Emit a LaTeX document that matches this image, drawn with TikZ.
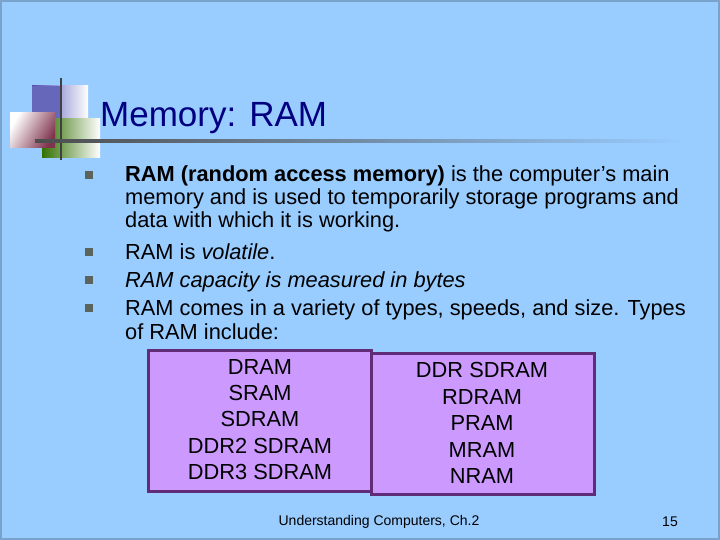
\documentclass[tikz,border=0pt]{standalone}
\usepackage{fontspec}
\setmainfont{Liberation Sans}
\begin{document}
\begin{tikzpicture}[x=1pt,y=-1pt,
  txt/.style={anchor=base west,inner sep=0pt,font=\fontsize{21.8}{24}\selectfont},
  bul/.style={fill=bulc,minimum size=7.5pt,inner sep=0pt},
  box/.style={draw=boxd,line width=3pt,fill=boxf},
  it/.style={inner sep=0pt,font=\fontsize{21.8}{24}\selectfont}]
\definecolor{bg}{RGB}{153,204,255}
\definecolor{bulc}{RGB}{90,100,90}
\definecolor{boxd}{RGB}{96,44,120}
\definecolor{boxf}{RGB}{204,153,255}
\definecolor{titc}{RGB}{0,0,128}
\useasboundingbox (0,0) rectangle (720,540);
\fill[bg] (0,0) rectangle (720,540);
\draw[bg!80!black,line width=2pt] (1,1) rectangle (719,539);
% logo
\shade[left color=blue!60!black!70!white,right color=white] (32,86) rectangle (88,120);
\fill[blue!55!black!60!white] (32,86) rectangle (62,120);
\shade[left color=green!30!black!80!yellow,right color=white] (42,119) rectangle (100,158);
\shade[left color=white,right color=purple!50!black!80!white,shading angle=60] (10,113) rectangle (55,148);
\draw[black!75,line width=2pt] (61,78) -- (61,160);
\shade[left color=black!70,right color=bg] (35,140) rectangle (683,142.5);
\node[anchor=base west,inner sep=0pt,text=titc,font=\fontsize{35}{38}\selectfont] (title) at (100,127) {Memory: RAM};
% bullets
\node[bul] (b1) at (89,175) {};
\node[bul] (b2) at (89,252) {};
\node[bul] (b3) at (89,280) {};
\node[bul] (b4) at (89,308) {};
\node[txt] (l1) at (125,182) {\textbf{RAM (random access memory)} is the computer’s main};
\node[txt] (l2) at (125,205) {memory and is used to temporarily storage programs and};
\node[txt] (l3) at (125,228) {data with which it is working.};
\node[txt] (l4) at (125,259) {RAM is \textit{volatile}.};
\node[txt] (l5) at (125,287) {\textit{RAM capacity is measured in bytes}};
\node[txt] (l6) at (125,315) {RAM comes in a variety of types, speeds, and size. Types};
\node[txt] (l7) at (125,339) {of RAM include:};
% boxes
\draw[box] (148,350) rectangle (371,491);
\draw[box] (371,353) rectangle (594,494);
\node[it] (a1) at (260,367) {DRAM};
\node[it] (a2) at (260,393) {SRAM};
\node[it] (a3) at (260,419) {SDRAM};
\node[it] (a4) at (260,446) {DDR2 SDRAM};
\node[it] (a5) at (260,472) {DDR3 SDRAM};
\node[it] (c1) at (482,370) {DDR SDRAM};
\node[it] (c2) at (482,397) {RDRAM};
\node[it] (c3) at (482,423) {PRAM};
\node[it] (c4) at (482,450) {MRAM};
\node[it] (c5) at (482,476) {NRAM};
\node[inner sep=0pt,font=\fontsize{14}{16}\selectfont] (foot) at (379,522) {Understanding Computers, Ch.2};
\node[inner sep=0pt,font=\fontsize{14}{16}\selectfont] (num) at (670,522) {15};
\end{tikzpicture}
\end{document}
